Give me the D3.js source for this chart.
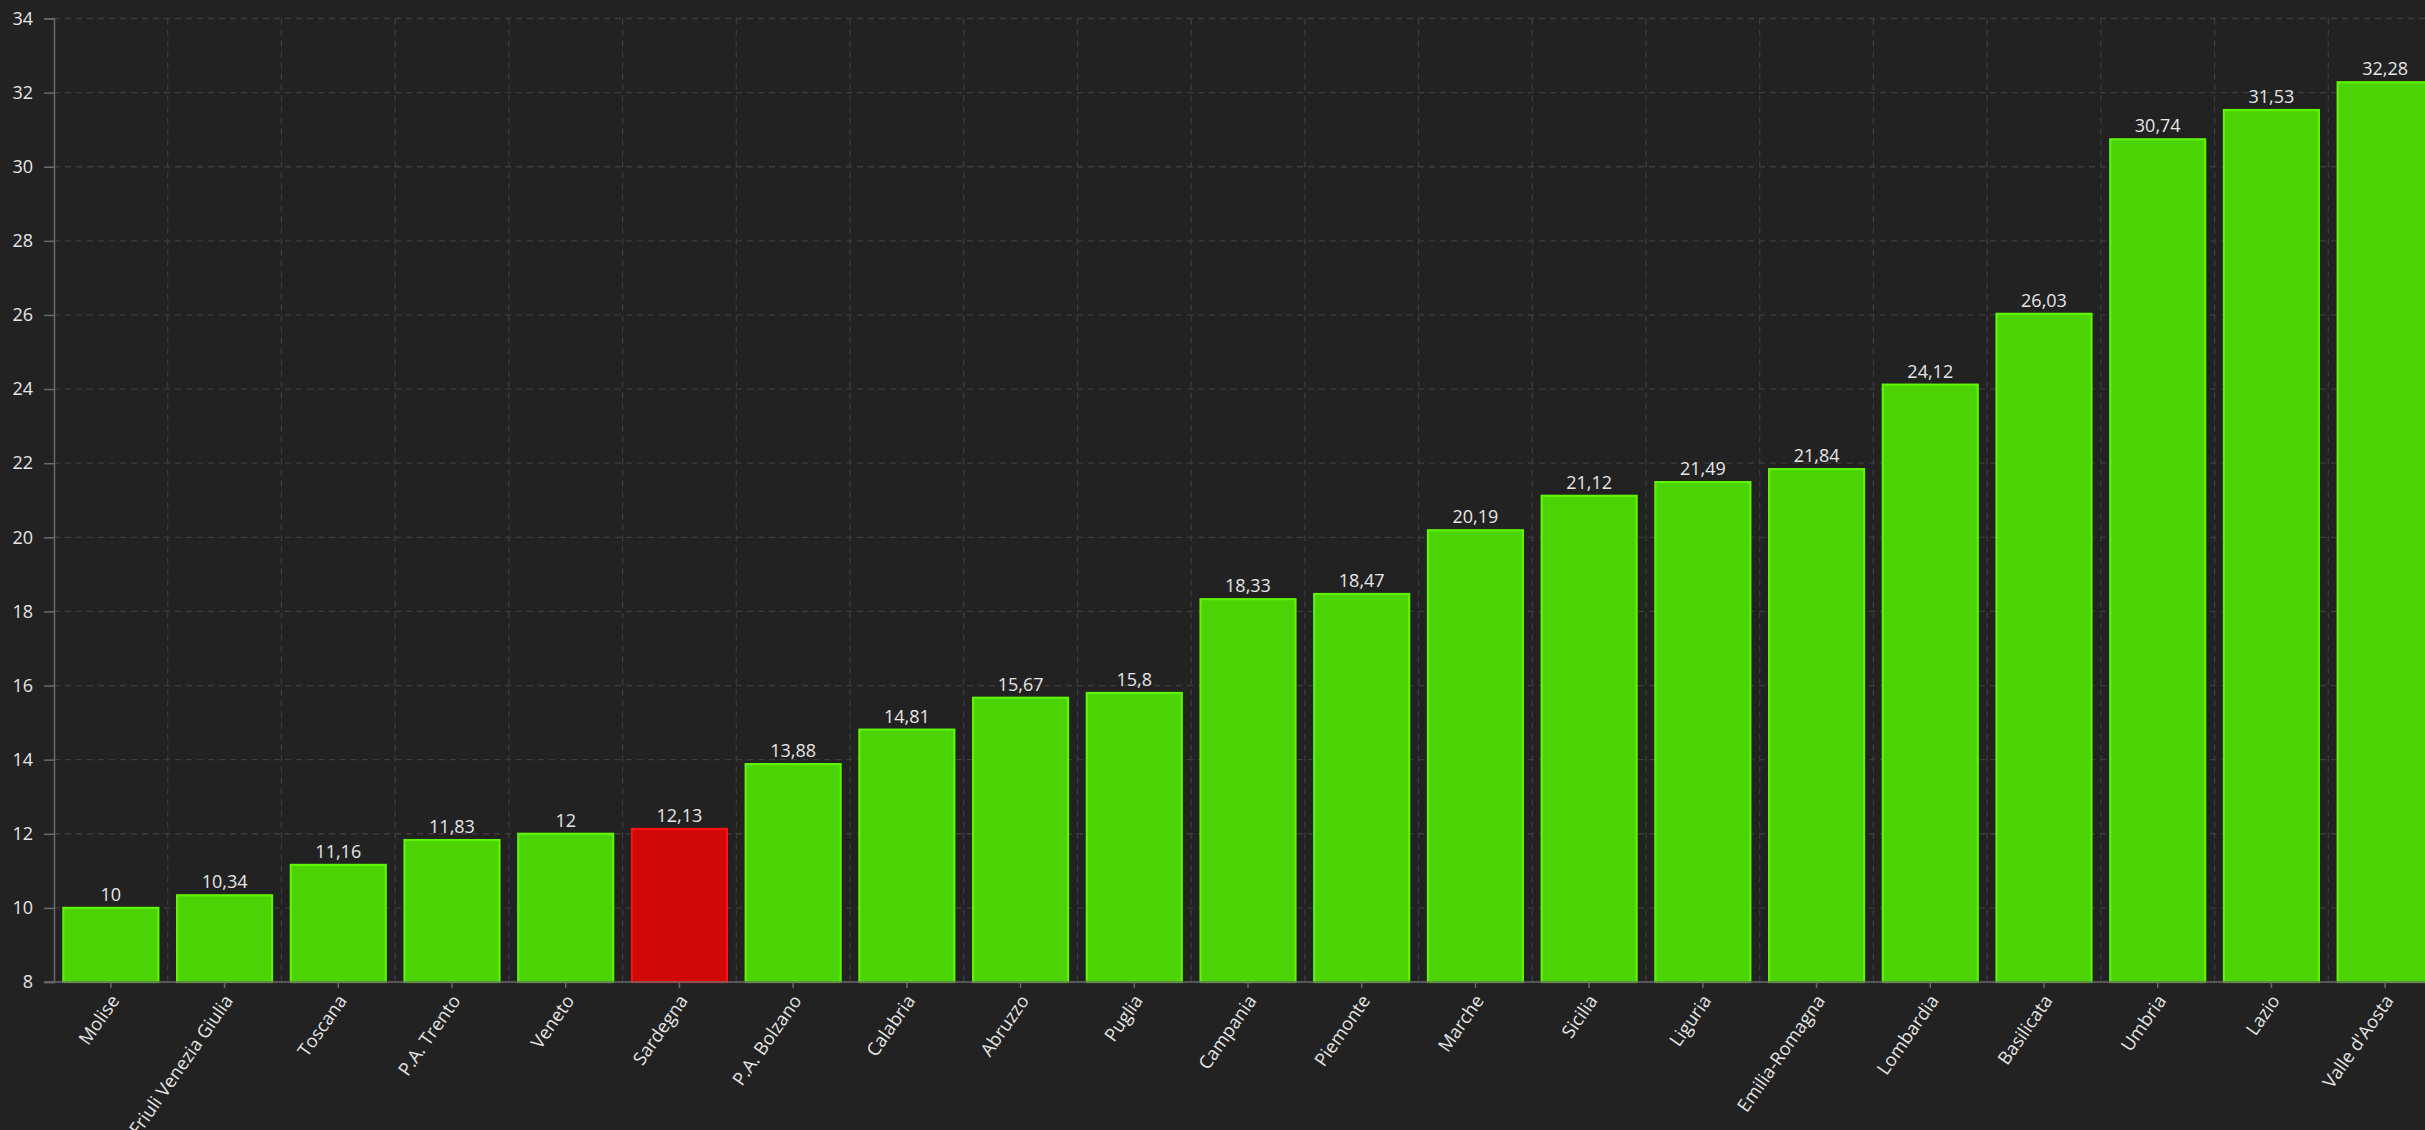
<!DOCTYPE html>
<html><head><meta charset="utf-8">
<script src="https://cdn.jsdelivr.net/npm/d3@7"></script>
<style>
html,body{margin:0;padding:0;background:#222222;overflow:hidden;}
svg{display:block;}
</style></head>
<body>
<svg id="chart" width="2425" height="1130"></svg>
<script>
const categories = ["Molise","Friuli Venezia Giulia","Toscana","P.A. Trento","Veneto","Sardegna","P.A. Bolzano","Calabria","Abruzzo","Puglia","Campania","Piemonte","Marche","Sicilia","Liguria","Emilia-Romagna","Lombardia","Basilicata","Umbria","Lazio","Valle d'Aosta"];
const values = [10,10.34,11.16,11.83,12,12.13,13.88,14.81,15.67,15.8,18.33,18.47,20.19,21.12,21.49,21.84,24.12,26.03,30.74,31.53,32.28];
const highlight = ["Sardegna"];
const yTicks = [8,10,12,14,16,18,20,22,24,26,28,30,32,34];

(function(){
const W = 2425, H = 1130;
const mLeft = 54, mRight = 2442, mTop = 18.5, mBottom = 982;
const FONT = "'Open Sans', 'Noto Sans', sans-serif";
const svg = d3.select("#chart");
svg.append("rect").attr("width",W).attr("height",H).attr("fill","#222222");

const x = d3.scaleBand().domain(categories).range([mLeft,mRight]).paddingInner(0.165).paddingOuter(0.0825);
const y = d3.scaleLinear().domain([8,34]).range([mBottom,mTop]);
const step = x.step();

// horizontal grid
svg.append("g").selectAll("line").data(yTicks.slice(1)).join("line")
  .attr("x1",mLeft).attr("x2",W).attr("y1",d=>y(d)).attr("y2",d=>y(d))
  .attr("stroke","#3d3d3d").attr("stroke-width",1.3).attr("stroke-dasharray","6,5");
// vertical grid at band boundaries
svg.append("g").selectAll("line").data(d3.range(1,categories.length+1)).join("line")
  .attr("x1",i=>mLeft+i*step).attr("x2",i=>mLeft+i*step).attr("y1",mTop).attr("y2",mBottom)
  .attr("stroke","#3d3d3d").attr("stroke-width",1.3).attr("stroke-dasharray","6,5");

// y axis
const yAxis = svg.append("g").attr("transform",`translate(${mLeft},0)`)
  .call(d3.axisLeft(y).tickValues(yTicks).tickSize(10).tickPadding(11).tickFormat(d=>d));
yAxis.select(".domain").attr("stroke","#6a6a6a").attr("stroke-width",1.5);
yAxis.selectAll(".tick line").attr("stroke","#6a6a6a").attr("stroke-width",1.5);
yAxis.selectAll("text").attr("fill","#e6e6e6").attr("font-size",18).attr("font-family",FONT);

// bars
svg.append("g").selectAll("rect").data(categories).join("rect")
  .attr("x",d=>x(d)).attr("width",x.bandwidth())
  .attr("y",(d,i)=>y(values[i])).attr("height",(d,i)=>y(8)-y(values[i]))
  .attr("fill",d=>highlight.includes(d)?"#d10808":"#4bd306")
  .attr("stroke",d=>highlight.includes(d)?"#ff1010":"#5ef500")
  .attr("stroke-width",2.2);

// x axis
const xAxis = svg.append("g").attr("transform",`translate(0,${mBottom})`)
  .call(d3.axisBottom(x).tickSize(6).tickSizeOuter(0));
xAxis.select(".domain").attr("stroke","#6a6a6a").attr("stroke-width",1.5).attr("d",`M${mLeft-10},0H${W}`);
xAxis.selectAll(".tick line").attr("stroke","#6a6a6a").attr("stroke-width",1.5);
xAxis.selectAll("text")
  .attr("fill","#e6e6e6").attr("font-size",18.3).attr("font-family",FONT)
  .attr("text-anchor","end").attr("dy","0.35em").attr("y",0)
  .attr("transform","translate(4,15) rotate(-55)");

// value labels
svg.append("g").selectAll("text").data(categories).join("text")
  .attr("x",d=>x(d)+x.bandwidth()/2).attr("y",(d,i)=>y(values[i])-7)
  .attr("text-anchor","middle").attr("fill","#e6e6e6").attr("font-size",18)
  .attr("font-family",FONT)
  .text((d,i)=>String(values[i]).replace(".",","));
})();
</script>
</body></html>
